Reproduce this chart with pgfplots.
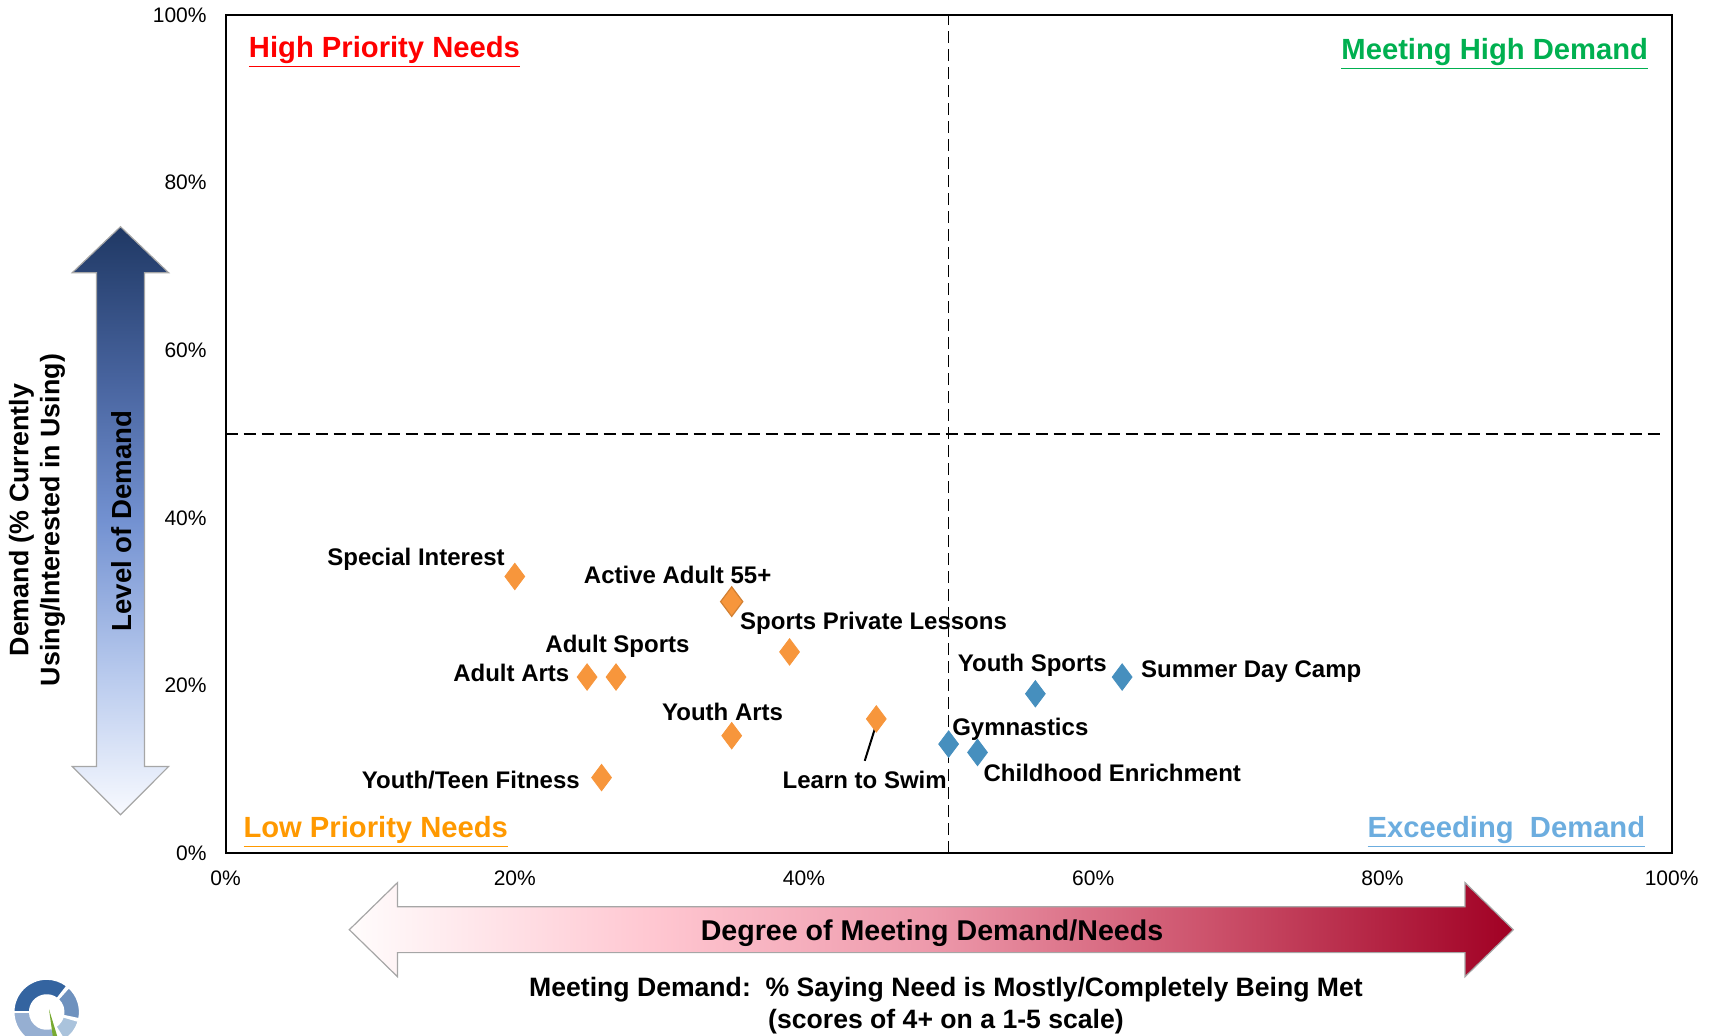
\documentclass[border=0pt]{standalone}
\usepackage{pgfplots}
\pgfplotsset{compat=1.18}
\usepackage{fontspec}
\setmainfont{Liberation Sans}
\definecolor{mkorange}{RGB}{247,150,60}
\definecolor{mkblue}{RGB}{70,143,190}
\definecolor{hpred}{RGB}{255,0,0}
\definecolor{mhgreen}{RGB}{0,176,80}
\definecolor{lporange}{RGB}{255,153,0}
\definecolor{edblue}{RGB}{108,173,223}
\definecolor{lgd}{RGB}{52,100,160}
\definecolor{lgm}{RGB}{110,145,190}
\definecolor{lgl}{RGB}{170,195,220}
\definecolor{lgg}{RGB}{150,175,210}
\definecolor{lggreen}{RGB}{120,170,50}
\pgfdeclareverticalshading{demandarrow}{100bp}{%
 rgb(0bp)=(0.973,0.98,1);
 rgb(25bp)=(0.973,0.98,1);
 rgb(37bp)=(0.72,0.79,0.93);
 rgb(50bp)=(0.45,0.57,0.82);
 rgb(62bp)=(0.28,0.39,0.62);
 rgb(75bp)=(0.122,0.22,0.392);
 rgb(100bp)=(0.122,0.22,0.392)}
\pgfdeclarehorizontalshading{meetarrow}{100bp}{%
 rgb(0bp)=(1,0.99,0.99);
 rgb(25bp)=(1,0.99,0.99);
 rgb(38bp)=(1,0.78,0.82);
 rgb(50bp)=(0.93,0.6,0.67);
 rgb(62bp)=(0.8,0.32,0.42);
 rgb(75bp)=(0.63,0.0,0.14);
 rgb(100bp)=(0.63,0.0,0.14)}
\newcommand{\lbl}{\bfseries\fontsize{12}{14}\selectfont}
\newcommand{\qt}{\bfseries\fontsize{14.6}{17}\selectfont}
\begin{document}
\begin{tikzpicture}[x=0.5pt,y=-0.5pt]
\useasboundingbox (0,0) rectangle (1717,1035);
% vertical arrow
\shade[shading=demandarrow]
 (120.5,226.7) -- (168.6,272.7) -- (144.5,272.7) -- (144.5,766.5) -- (168.6,766.5) -- (120.5,814.7) -- (72.3,766.5) -- (96.4,766.5) -- (96.4,272.7) -- (72.3,272.7) -- cycle;
\draw[gray!70, line width=0.6pt]
 (120.5,226.7) -- (168.6,272.7) -- (144.5,272.7) -- (144.5,766.5) -- (168.6,766.5) -- (120.5,814.7) -- (72.3,766.5) -- (96.4,766.5) -- (96.4,272.7) -- (72.3,272.7) -- cycle;
\node[rotate=90, font=\bfseries\fontsize{13.8}{16}\selectfont] at (121.5,521) {Level of Demand};
% horizontal arrow
\shade[shading=meetarrow]
 (349.3,929.7) -- (397.5,882.6) -- (397.5,906.7) -- (1465,906.7) -- (1465,882.6) -- (1513.3,929.7) -- (1465,976.7) -- (1465,952.6) -- (397.5,952.6) -- (397.5,976.7) -- cycle;
\draw[gray!70, line width=0.6pt]
 (349.3,929.7) -- (397.5,882.6) -- (397.5,906.7) -- (1465,906.7) -- (1465,882.6) -- (1513.3,929.7) -- (1465,976.7) -- (1465,952.6) -- (397.5,952.6) -- (397.5,976.7) -- cycle;
\node[font=\bfseries\fontsize{14.3}{16}\selectfont] at (932,933) {Degree of Meeting Demand/Needs};
% y label
\node[rotate=90, align=center, font=\bfseries\fontsize{13.4}{15.5}\selectfont] at (37,520) {Demand (\% Currently\\Using/Interested in Using)};
% bottom text
\node[font=\bfseries\fontsize{13.3}{15}\selectfont] at (946,990) {Meeting Demand:\ \ \% Saying Need is Mostly/Completely Being Met};
\node[font=\bfseries\fontsize{13.3}{15}\selectfont] at (946,1021.6) {(scores of 4+ on a 1-5 scale)};
% logo
\foreach \a/\b/\c in {180/52/lgd, 48/-12/lgm, -16/-58/lgl, -72/-180/lgg}{
 \fill[\c, draw=white, line width=0.8pt] ([shift={(\a:16.5pt)}]23.35pt,-506pt) arc[start angle=\a, end angle=\b, radius=16.5pt] -- ([shift={(\b:8.5pt)}]23.35pt,-506pt) arc[start angle=\b, end angle=\a, radius=8.5pt] -- cycle;
}
\fill[lggreen] (24.5pt,-504.6pt) -- (30pt,-522.6pt) -- (27pt,-522.6pt) -- cycle;
\begin{axis}[at={(112.8pt,-426.5pt)}, anchor=south west, scale only axis,
 width=723pt, height=419pt,
 xmin=0, xmax=100, ymin=0, ymax=100,
 xtick={0,20,40,60,80,100}, xticklabels={0\%,20\%,40\%,60\%,80\%,100\%},
 ytick={0,20,40,60,80,100}, yticklabels={0\%,20\%,40\%,60\%,80\%,100\%},
 tick style={draw=none},
 ticklabel style={font=\fontsize{10.5}{12}\selectfont},
 xticklabel style={yshift=-5.5pt}, yticklabel style={xshift=-6pt},
 axis line style={line width=1pt},
 clip=false]
\draw[dashed, dash pattern=on 6pt off 3pt, line width=0.7pt] (axis cs:50,0) -- (axis cs:50,100);
\draw[dashed, dash pattern=on 6pt off 3pt, line width=0.7pt] (axis cs:0,50) -- (axis cs:99.2,50);
\addplot[only marks, mark=diamond*, mark size=6.6pt, color=mkorange] coordinates {(20,33) (39,24) (25,21) (27,21) (35,14) (45,16) (26,9)};
\addplot[only marks, mark=diamond*, mark size=7.4pt, color=mkorange, mark options={draw=mkorange!85!black, line width=0.6pt}] coordinates {(35,30)};
\addplot[only marks, mark=diamond*, mark size=6.6pt, color=mkblue] coordinates {(50,13) (52,12) (56,19) (62,21)};
\draw[line width=1pt] (axis cs:45.04,15.6) -- (axis cs:44.2,11.0);
\node[font=\lbl] at (axis cs:13.17,35.03) {Special Interest};
\node[font=\lbl] at (axis cs:31.26,33.2) {Active Adult 55+};
\node[font=\lbl] at (axis cs:44.81,27.45) {Sports Private Lessons};
\node[font=\lbl] at (axis cs:27.1,24.7) {Adult Sports};
\node[font=\lbl] at (axis cs:19.76,21.44) {Adult Arts};
\node[font=\lbl] at (axis cs:34.37,16.86) {Youth Arts};
\node[font=\lbl] at (axis cs:44.2,8.76) {Learn to Swim};
\node[font=\lbl] at (axis cs:16.96,8.76) {Youth/Teen Fitness};
\node[font=\lbl] at (axis cs:54.96,14.77) {Gymnastics};
\node[font=\lbl] at (axis cs:61.32,9.54) {Childhood Enrichment};
\node[font=\lbl] at (axis cs:55.79,22.35) {Youth Sports};
\node[font=\lbl] at (axis cs:70.93,21.7) {Summer Day Camp};
\node[anchor=west, inner sep=0pt, font=\qt, text=hpred] at (axis cs:1.59,95.6) {\underline{High Priority Needs}};
\node[anchor=east, inner sep=0pt, font=\qt, text=mhgreen] at (axis cs:98.4,95.3) {\underline{Meeting High Demand}};
\node[anchor=west, inner sep=0pt, font=\qt, text=lporange] at (axis cs:1.21,2.5) {\underline{Low Priority Needs}};
\node[anchor=east, inner sep=0pt, font=\qt, text=edblue] at (axis cs:98.2,2.5) {\underline{Exceeding\ \ Demand}};
\end{axis}
\end{tikzpicture}
\end{document}
